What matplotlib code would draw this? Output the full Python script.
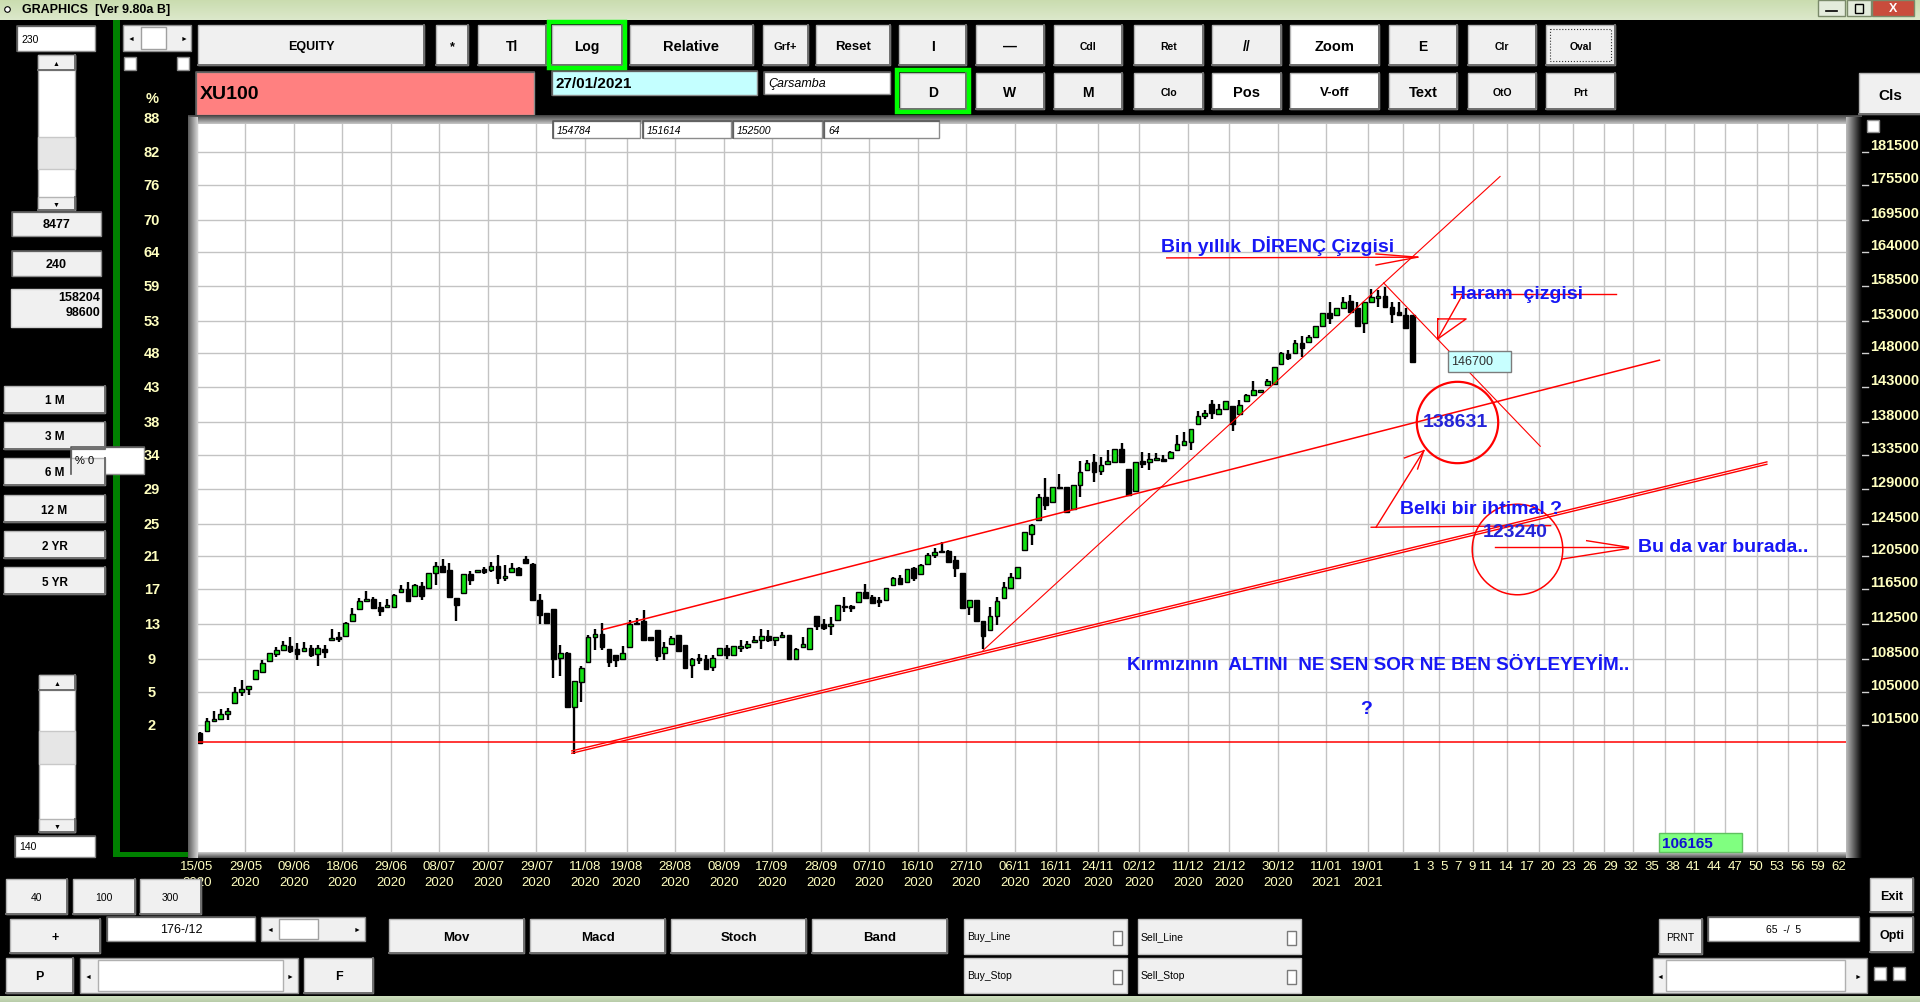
import numpy as np
import matplotlib
matplotlib.use('Agg')
import matplotlib.pyplot as plt
from matplotlib.patches import Rectangle
from matplotlib.colors import to_rgb
from matplotlib.transforms import blended_transform_factory as blend

NARROW = ['Liberation Sans Narrow', 'Liberation Sans', 'DejaVu Sans']
plt.rcParams['font.family'] = NARROW

# ---- data (XU100 daily, 15/05/2020 - 27/01/2021) ----
opens = [100730, 100900, 101930, 102140, 102660, 103810, 104980, 105300, 106330, 107130,
         108290, 109100, 109500, 110020, 109690, 109430, 109760, 109100, 109690, 110660,
         111040, 111110, 112810, 114190, 115170, 115360, 114420, 114420, 114460, 116180,
         116570, 115710, 116850, 116650, 118440, 119290, 118760, 115480, 116060, 118320,
         118560, 118960, 118760, 119290, 117840, 118550, 119040, 120170, 119560, 115210,
         113730, 114240, 108690, 109250, 103400, 106040, 108220, 110990, 111330, 109610,
         108950, 108580, 109880, 112620, 112770, 110960, 111790, 109180, 110210, 111180,
         110130, 107930, 108660, 108580, 107670, 108950, 109770, 108950, 109770, 109880,
         110430, 110700, 111070, 110700, 110990, 111180, 108580, 109880, 109690, 113440,
         112480, 112220, 112970, 114420, 114570, 115070, 116160, 115540, 115270, 115190,
         117030, 117820, 117420, 119090, 118330, 119530, 120620, 121110, 121110, 120020,
         118410, 114380, 115270, 112780, 111840, 113430, 115460, 116710, 117900, 121190,
         123170, 124960, 127940, 127300, 129240, 129240, 126450, 129460, 131440, 132560,
         131310, 132340, 132560, 134360, 131660, 128670, 132650, 132560, 132790, 133010,
         133100, 134240, 134820, 135280, 137820, 138850, 140640, 139230, 139930, 140260,
         139230, 140980, 141840, 142320, 143280, 143520, 146330, 147830, 147980, 149480,
         149730, 150500, 152190, 154100, 153840, 154990, 156090, 154880, 152600, 155930,
         156460, 156890, 155140, 154360, 153840, 153840]
highs = [100800, 102240, 102970, 103190, 103290, 105510, 106260, 105620, 107310, 108470,
         109210, 109910, 110590, 111040, 110360, 110480, 110130, 110130, 110130, 111940,
         111600, 112700, 114340, 115520, 116340, 115630, 115050, 115400, 115950, 117050,
         117410, 117170, 117410, 118440, 119810, 120180, 119690, 115480, 118320, 118720,
         118840, 119170, 119810, 120660, 119410, 119690, 119160, 120500, 119690, 115990,
         113730, 114240, 110130, 109320, 106110, 107780, 111260, 111940, 112620, 109610,
         109030, 109990, 112890, 113160, 114120, 111030, 111790, 110430, 111110, 111260,
         110130, 108660, 109060, 108950, 108950, 109770, 110130, 109990, 110620, 110510,
         111110, 111940, 111750, 110990, 111560, 111180, 109770, 110990, 112020, 113440,
         113090, 113230, 114690, 115580, 114690, 116160, 117150, 115850, 115650, 116710,
         118020, 118210, 118930, 119210, 119490, 120910, 121440, 122260, 121230, 120540,
         118410, 115270, 115270, 112850, 114380, 115650, 117310, 118410, 119210, 123420,
         124540, 128380, 130430, 129240, 131000, 129240, 129460, 132650, 132780, 133680,
         133240, 134130, 134270, 135180, 131660, 132560, 133910, 133780, 133780, 133460,
         134000, 136200, 136660, 137120, 139550, 139700, 141120, 140640, 140980, 140260,
         141120, 142080, 143920, 142560, 144260, 145930, 148230, 148480, 149980, 150600,
         150750, 152190, 154200, 155930, 154990, 156730, 157000, 155930, 155930, 157900,
         157800, 158220, 155930, 155930, 154880, 153840]
lows = [99550, 100900, 101930, 102140, 102000, 103810, 104520, 104620, 106330, 107060,
        108290, 108730, 109500, 109170, 108400, 109430, 108730, 107740, 108620, 110660,
        110400, 111110, 112810, 114190, 115010, 114310, 113350, 114420, 114390, 116180,
        115130, 115710, 115210, 116650, 116970, 118560, 115590, 112780, 116060, 116970,
        118560, 118280, 118560, 117090, 117450, 118470, 118160, 119520, 115210, 112510,
        112580, 106510, 106690, 103400, 98560, 103920, 108220, 109500, 109500, 107670,
        107670, 108470, 109880, 112320, 110700, 110630, 108330, 108470, 110210, 109390,
        107570, 106470, 108000, 107490, 107240, 108950, 108580, 108950, 109320, 109690,
        110430, 109690, 110430, 109990, 110990, 108580, 108470, 109880, 109690, 111800,
        111840, 111280, 112970, 113810, 113810, 115070, 115460, 114880, 114380, 115190,
        117030, 117030, 117420, 117500, 118330, 119530, 120300, 120830, 119730, 118020,
        114300, 113540, 112780, 109610, 111840, 112400, 115460, 116710, 117740, 121190,
        121850, 124960, 126230, 127300, 129030, 126020, 126450, 127940, 131440, 129900,
        130780, 132340, 132560, 132560, 128250, 128670, 131760, 131450, 132650, 132560,
        133100, 134240, 134820, 134140, 137820, 138520, 138520, 139230, 139930, 136750,
        139230, 140980, 141750, 142320, 143280, 143520, 146330, 146980, 147980, 147480,
        149730, 150500, 152190, 152450, 153840, 154990, 154360, 152190, 151030, 155930,
        155140, 155140, 152600, 153840, 151780, 146730]
closes = [99650, 101930, 102140, 102660, 102970, 104980, 105260, 105580, 107310, 108110,
          109210, 109540, 110060, 109390, 109140, 109760, 108950, 109760, 109320, 110920,
          110740, 112620, 113610, 115170, 115400, 114310, 113960, 114660, 115870, 116570,
          115130, 116970, 115670, 118440, 119290, 118560, 115590, 114700, 118320, 117560,
          118840, 118560, 119290, 117840, 118080, 119040, 118160, 119600, 115210, 113460,
          112580, 108580, 109210, 103400, 106110, 107600, 110990, 111330, 109880, 108220,
          108400, 109210, 112510, 112470, 110700, 110700, 108840, 109880, 110920, 109390,
          107570, 108580, 108400, 107490, 108660, 109770, 108950, 109990, 109990, 110210,
          110700, 111070, 110620, 110990, 111260, 108580, 109690, 110210, 112020, 112300,
          112030, 112480, 114690, 114570, 114310, 116160, 115460, 114880, 114960, 116630,
          117900, 117150, 118930, 117900, 119410, 120620, 121030, 120950, 119730, 119010,
          114300, 115270, 112780, 111090, 113430, 115150, 116830, 118020, 119210, 123420,
          124410, 127940, 126960, 129240, 129110, 126020, 129460, 131220, 132470, 131220,
          132110, 132650, 134270, 132560, 128250, 132560, 132340, 133010, 133100, 132650,
          133910, 134970, 135370, 137120, 138850, 139320, 139320, 139930, 140980, 137820,
          140410, 141840, 142560, 142560, 143870, 145930, 147980, 147230, 149480, 148730,
          150500, 152190, 154100, 153430, 154880, 155930, 154360, 152190, 155930, 156730,
          156890, 155140, 153940, 153840, 151780, 146730]

date_bars = [0, 7, 14, 21, 28, 35, 42, 49, 56, 62, 69, 76, 83, 90, 97, 104, 111, 118,
             124, 130, 136, 143, 149, 156, 163, 169]
date_labels = ['15/05', '29/05', '09/06', '18/06', '29/06', '08/07', '20/07', '29/07',
               '11/08', '19/08', '28/08', '08/09', '17/09', '28/09', '07/10', '16/10',
               '27/10', '06/11', '16/11', '24/11', '02/12', '11/12', '21/12', '30/12',
               '11/01', '19/01']
date_years = ['2020'] * 24 + ['2021', '2021']
future_labels = [1, 3, 5, 7, 9, 11, 14, 17, 20, 23, 26, 29, 32, 35, 38, 41, 44, 47,
                 50, 53, 56, 59, 62]
future_grid = [173.6, 178.8, 183.7, 188.6, 193.2, 198.1, 202.6, 206.8, 211.4, 215.6,
               220.1, 224.7, 229.1, 233.3]
grid_prices = [187900, 181500, 175500, 169500, 164000, 158500, 153000, 148000, 143000,
               138000, 133500, 129000, 124500, 120500, 116500, 112500, 108500, 105000, 101500]
pct_labels = ['88', '82', '76', '70', '64', '59', '53', '48', '43', '38', '34', '29',
              '25', '21', '17', '13', '9', '5', '2']
base_price = 99760
last_price = 146700

# ---- figure + layers ----
fig = plt.figure(figsize=(19.2, 10.03), dpi=100, facecolor='black')
ui = fig.add_axes([0, 0, 1, 1], zorder=0)
ui.set_xlim(0, 1920)
ui.set_ylim(1003, 0)
ui.axis('off')

ax = fig.add_axes([198 / 1920, 1 - 853 / 1003, 1648 / 1920, 728 / 1003], zorder=1)
ax.set_facecolor('white')
ax.set_yscale('log')
ax.set_xlim(-0.29, 237.52)
ax.set_ylim(89260, 186740)
ax.set_xticks([])
ax.set_yticks([])
ax.minorticks_off()
for s in ax.spines.values():
    s.set_visible(False)

ov = fig.add_axes([0, 0, 1, 1], zorder=2)
ov.set_xlim(0, 1920)
ov.set_ylim(1003, 0)
ov.axis('off')


def grad(a, x0, x1, y0, y1, c0, c1, horiz=True, z=2):
    t = np.linspace(0, 1, 64)[:, None]
    cols = np.array(to_rgb(c0)) * (1 - t) + np.array(to_rgb(c1)) * t
    img = cols[None, :, :] if horiz else cols[:, None, :]
    a.imshow(img, extent=(x0, x1, y1, y0), aspect='auto', interpolation='bilinear', zorder=z)


def box(a, x0, y0, x1, y1, fc, ec='#a0a0a0', lw=1.0, z=3, ls='-'):
    a.add_patch(Rectangle((x0, y0), x1 - x0, y1 - y0, fc=fc, ec=ec, lw=lw, ls=ls, zorder=z))


def button(x0, y0, x1, y1, text, fs=9, fc='#f0f0f0', weight='bold', ring=None, a=None):
    a = a or ui
    box(a, x0, y0, x1, y1, fc, ec='#b4b4b4')
    a.plot([x0, x1, x1], [y1, y1, y0], color='#6e6e6e', lw=1.4, zorder=4)
    if ring:
        box(a, x0 - 3, y0 - 3, x1 + 3, y1 + 3, 'none', ec=ring, lw=3.2, z=5)
    a.text((x0 + x1) / 2, (y0 + y1) / 2 + 1, text, ha='center', va='center',
           fontsize=fs, fontweight=weight, color='black', zorder=6)


def field(x0, y0, x1, y1, text, fc='white', fs=8, ha='left', style='normal',
          weight='normal', a=None, tc='black'):
    a = a or ui
    box(a, x0, y0, x1, y1, fc, ec='#8c8c8c')
    a.plot([x0, x0, x1], [y1, y0, y0], color='#5a5a5a', lw=1.2, zorder=4)
    tx = x0 + 4 if ha == 'left' else (x0 + x1) / 2
    a.text(tx, (y0 + y1) / 2, text, ha=ha, va='center', fontsize=fs, color=tc,
           fontstyle=style, fontweight=weight, zorder=6)


# ---- window chrome ----
grad(ui, 0, 1920, 0, 21, '#c9dcae', '#dce8cb', horiz=False)
ui.text(22, 10, 'GRAPHICS  [Ver 9.80a B]', fontsize=9, fontweight='bold',
        va='center', family=['Liberation Sans', 'DejaVu Sans'], zorder=6)
ui.plot(7, 10, 'o', ms=4, mfc='white', mec='black', mew=0.8, zorder=6)
for x0, x1, fc in [(1818, 1845, '#e4ecdc'), (1847, 1871, '#e4ecdc'), (1872, 1914, '#c94c3c')]:
    box(ui, x0, 1, x1, 17, fc, ec='#7a8a6a')
ui.text(1893, 9, 'X', color='white', fontsize=9, fontweight='bold', ha='center', va='center', zorder=6)
ui.plot([1826, 1837], [12, 12], color='black', lw=1.2, zorder=6)
box(ui, 1855, 5, 1863, 14, 'none', ec='black', lw=1, z=6)
grad(ui, 0, 1920, 997, 1003, '#cfe0c0', '#b8cca8', horiz=False)

# left green frame
box(ui, 113, 21, 120, 858, '#008000', ec='none')
box(ui, 113, 853, 190, 858, '#008000', ec='none')

# ---- top toolbar ----
row1 = [('EQUITY', 198, 424, 9, '#f0f0f0'), ('*', 436, 468, 9, '#f0f0f0'),
        ('Tl', 478, 546, 10, '#f0f0f0'), ('Log', 552, 622, 10, '#f0f0f0'),
        ('Relative', 630, 753, 10.5, '#f0f0f0'), ('Grf+', 763, 808, 8, '#f0f0f0'),
        ('Reset', 816, 890, 9.5, '#f0f0f0'), ('I', 899, 966, 10, '#f0f0f0'),
        ('—', 976, 1044, 10, '#f0f0f0'), ('Cdl', 1054, 1122, 7.5, '#f0f0f0'),
        ('Ret', 1134, 1203, 7.5, '#f0f0f0'), ('//', 1212, 1281, 10, '#f0f0f0'),
        ('Zoom', 1290, 1379, 10.5, 'white'), ('E', 1389, 1457, 10, '#f0f0f0'),
        ('Clr', 1468, 1536, 7.5, '#f0f0f0'), ('Oval', 1546, 1615, 7.5, '#f0f0f0')]
for txt, x0, x1, fs, fc in row1:
    button(x0, 26, x1, 66, txt, fs=fs, fc=fc, ring='#00ff00' if txt == 'Log' else None)
box(ui, 1550, 30, 1611, 62, 'none', ec='#303030', lw=0.8, z=5, ls=':')

row2 = [('D', 900, 966, 10, '#f0f0f0'), ('W', 976, 1044, 10, '#f0f0f0'),
        ('M', 1054, 1122, 10, '#f0f0f0'), ('Clo', 1134, 1203, 7.5, '#f0f0f0'),
        ('Pos', 1212, 1281, 10.5, 'white'), ('V-off', 1290, 1379, 9.5, 'white'),
        ('Text', 1389, 1457, 10.5, '#f0f0f0'), ('OtO', 1468, 1536, 7.5, '#f0f0f0'),
        ('Prt', 1546, 1615, 7.5, '#f0f0f0')]
for txt, x0, x1, fs, fc in row2:
    button(x0, 74, x1, 110, txt, fs=fs, fc=fc, ring='#00ff00' if txt == 'D' else None)
button(1859, 74, 1922, 115, 'Cls', fs=11)

field(196, 73, 534, 116, 'XU100', fc='#ff8080', fs=14, weight='bold')
field(552, 72, 757, 96, '27/01/2021', fc='#c4ffff', fs=11, weight='bold')
field(764, 73, 890, 95, 'Çarsamba', fs=9, style='italic')

# top-left controls
field(17, 27, 95, 52, '230', fs=7.5)
box(ui, 123, 26, 191, 52, '#f0f0f0', ec='#8c8c8c')
box(ui, 141, 28, 166, 50, 'white', ec='#a0a0a0')
ui.text(131, 39, '◄', fontsize=5, ha='center', va='center', zorder=6)
ui.text(184, 39, '►', fontsize=5, ha='center', va='center', zorder=6)
box(ui, 124, 58, 136, 71, 'white', ec='#8c8c8c')
box(ui, 177, 58, 189, 71, 'white', ec='#8c8c8c')


def vscroll(x0, y0, x1, y1, t0, t1):
    box(ui, x0, y0, x1, y1, 'white', ec='#a0a0a0')
    box(ui, x0, t0, x1, t1, '#e6e6e6', ec='#c8c8c8')
    button(x0, y0, x1, y0 + 15, '▲', fs=5, weight='normal')
    button(x0, y1 - 13, x1, y1, '▼', fs=5, weight='normal')


vscroll(38, 56, 75, 211, 138, 170)
vscroll(39, 676, 75, 833, 732, 765)
field(15, 837, 95, 858, '140', fs=7.5)

field(12, 213, 101, 237, '8477', fc='#f0f0f0', fs=9, ha='center', weight='bold')
field(12, 252, 101, 277, '240', fc='#f0f0f0', fs=9, ha='center', weight='bold')
box(ui, 11, 290, 101, 328, '#f0f0f0', ec='#d0d0d0')
ui.text(100, 298, '158204', ha='right', va='center', fontsize=9, fontweight='bold', zorder=6)
ui.text(100, 313, '98600', ha='right', va='center', fontsize=9, fontweight='bold', zorder=6)

field(71, 448, 144, 475, '% 0', fs=8)
for j, txt in enumerate(['1 M', '3 M', '6 M', '12 M', '2 YR', '5 YR']):
    y0 = [387, 423, 459, 496, 532, 568][j]
    button(4, y0, 105, y0 + 27, txt, fs=8.5)

# ---- bottom controls ----
for txt, x0, x1 in [('40', 6, 67), ('100', 73, 135), ('300', 140, 201)]:
    button(x0, 880, x1, 915, txt, fs=7.5, weight='normal')
button(10, 920, 100, 954, '+', fs=9)
field(107, 918, 255, 942, '176-/12', fs=9, ha='center')
box(ui, 261, 918, 365, 942, '#f0f0f0', ec='#8c8c8c')
box(ui, 279, 920, 318, 940, 'white', ec='#a0a0a0')
ui.text(270, 930, '◄', fontsize=5, ha='center', va='center', zorder=6)
ui.text(357, 930, '►', fontsize=5, ha='center', va='center', zorder=6)
for txt, x0, x1 in [('Mov', 389, 524), ('Macd', 530, 665), ('Stoch', 671, 806), ('Band', 812, 947)]:
    button(x0, 920, x1, 954, txt, fs=9.5)
for txt, x0, y0 in [('Buy_Line', 964, 920), ('Sell_Line', 1138, 920),
                    ('Buy_Stop', 964, 959), ('Sell_Stop', 1138, 959)]:
    box(ui, x0, y0, x0 + 163, y0 + 35, '#f0f0f0', ec='#c0c0c0')
    ui.text(x0 + 3, y0 + 17, txt, fontsize=7.5, va='center', zorder=6)
    box(ui, x0 + 149, y0 + 12, x0 + 158, y0 + 26, 'white', ec='#7a7a7a')
button(6, 959, 73, 994, 'P', fs=9)
box(ui, 80, 959, 298, 994, '#f0f0f0', ec='#8c8c8c')
box(ui, 98, 961, 283, 992, 'white', ec='#b0b0b0')
ui.text(88, 977, '◄', fontsize=5, ha='center', va='center', zorder=6)
ui.text(290, 977, '►', fontsize=5, ha='center', va='center', zorder=6)
button(304, 959, 373, 994, 'F', fs=9)
button(1659, 920, 1702, 955, 'PRNT', fs=7.5, weight='normal')
field(1708, 918, 1859, 942, '65  -/  5', fs=7.5, ha='center')
button(1870, 879, 1913, 913, 'Exit', fs=9)
button(1870, 918, 1913, 953, 'Opti', fs=9)
box(ui, 1653, 959, 1867, 994, '#f0f0f0', ec='#8c8c8c')
box(ui, 1666, 961, 1845, 992, 'white', ec='#b0b0b0')
ui.text(1660, 977, '◄', fontsize=5, ha='center', va='center', zorder=6)
ui.text(1858, 977, '►', fontsize=5, ha='center', va='center', zorder=6)
box(ui, 1874, 968, 1886, 981, 'white', ec='#8c8c8c')
box(ui, 1893, 968, 1905, 981, 'white', ec='#8c8c8c')

# ---- chart frame ----
grad(ov, 188, 198, 118, 859, '#5a5a5a', '#d8d8d8')
grad(ov, 1846, 1862, 118, 859, '#bdbdbd', '#000000')
grad(ov, 188, 1862, 116, 125, '#404040', '#c8c8c8', horiz=False, z=1)
grad(ov, 188, 1862, 853, 859, '#d0d0d0', '#4a4a4a', horiz=False, z=1)
box(ov, 1867, 121, 1879, 133, 'white', ec='#909090')

# ---- grid ----
GRID = '#c3c3c3'
for p in grid_prices[1:]:
    ax.axhline(p, color=GRID, lw=1.0, zorder=0)
for b in date_bars:
    ax.axvline(b - 0.45, color=GRID, lw=1.0, zorder=0)
for g in future_grid:
    ax.axvline(g, color=GRID, lw=1.0, zorder=0)

# price scale (right) and percent scale (left)
yr = blend(ui.transData, ax.transData)
for p in grid_prices[1:]:
    ui.plot([1860, 1868], [p, p], color='#d0d0d0', lw=1.0, transform=yr, zorder=3)
    ui.text(1870, p, f'{p}', transform=yr, ha='left', va='bottom', fontsize=10.5,
            fontweight='bold', color='#ffffc0', zorder=3)
for p, lab in zip(grid_prices, pct_labels):
    ui.text(152, p, lab, transform=yr, ha='center', va='center', fontsize=10.5,
            fontweight='bold', color='#ffffc0', zorder=3)
ui.text(152, 99, '%', ha='center', va='center', fontsize=10.5, fontweight='bold',
        color='#ffffc0', zorder=3)

# date labels
xb = blend(ax.transData, ui.transData)
for b, d, yl in zip(date_bars, date_labels, date_years):
    ui.text(b - 0.45, 867, d, transform=xb, ha='center', va='center', fontsize=9.5,
            color='#ffffc0', zorder=1)
    ui.text(b - 0.45, 883, yl, transform=xb, ha='center', va='center', fontsize=9.5,
            color='#ffffc0', zorder=1)
last_bar = len(closes) - 1
for k in future_labels:
    ui.text(last_bar - 0.5 + k, 867, str(k), transform=xb, ha='center', va='center',
            fontsize=9.5, color='#ffffc0', zorder=1)

# ---- candles ----
x = np.arange(len(closes))
o = np.array(opens, float)
c = np.array(closes, float)
up = c >= o
ax.vlines(x, lows, highs, color='black', lw=1.7, zorder=3)
bottoms = np.minimum(o, c)
heights = np.abs(c - o)
ax.bar(x, heights, 0.68, bottom=bottoms, color=np.where(up, '#12e012', 'black'),
       edgecolor='black', linewidth=1.0, zorder=4)

# ---- drawn lines / notes ----
RED = '#ff0000'
BLUE = '#1717f5'
ax.axhline(base_price, color=RED, lw=1.1, zorder=5)
ax.plot([53.65, 226.1], [98660, 132250], color=RED, lw=1.0, zorder=5)
ax.plot([53.65, 226.1], [98660 * 1.0024, 132250 * 1.0024], color=RED, lw=1.0, zorder=5)
ax.plot([58.1, 210.6], [111840, 146970], color=RED, lw=1.1, zorder=5)
ax.plot([113.0, 187.6], [109510, 177060], color=RED, lw=0.8, zorder=5)
ax.plot([170.8, 193.4], [158950, 134690], color=RED, lw=0.8, zorder=5)

segs = [
    ([139.5, 175.7], [163030, 163150]), ([169.7, 175.7], [163690, 163150]),
    ([169.7, 175.7], [161860, 163150]),
    ([180.5, 204.3], [157120, 157120]), ([182.1, 178.6], [156860, 150170]),
    ([178.6, 182.7, 178.6, 178.6], [153250, 153250, 150170, 153250]),
    ([169.0, 194.9], [124070, 124270]), ([169.7, 176.6], [124070, 134090]),
    ([173.8, 176.6], [133100, 134090]), ([175.7, 176.6], [131620, 134090]),
    ([186.9, 206.1], [121580, 121580]), ([200.1, 206.1], [122390, 121580]),
    ([196.6, 206.1], [120140, 121420]),
]
for sx, sy in segs:
    ax.plot(sx, sy, color=RED, lw=1.0, zorder=5)

ax.plot(181.4, 138010, 'o', ms=58.6, mfc='none', mec=RED, mew=1.6, zorder=6)
ax.plot(190.1, 121310, 'o', ms=65.2, mfc='none', mec=RED, mew=1.1, zorder=6)

ax.add_patch(Rectangle((180.1, 145230), 9.1, 3120, fc='#c8ffff', ec='#7c7c7c', lw=1.0, zorder=7))
ax.text(180.5, 146780, f'{last_price}', fontsize=9, color='#303030', va='center', zorder=8)

notes = [
    (138.7, 165190, 'Bin yıllık  DİRENÇ Çizgisi', 'left', BLUE, 14),
    (180.7, 157260, 'Haram  çizgisi', 'left', BLUE, 14),
    (181.2, 138050, '138631', 'center', '#2424d8', 14),
    (173.2, 126390, 'Belki bir ihtimal ?', 'left', BLUE, 14),
    (189.8, 123540, '123240', 'center', '#2424d8', 14),
    (207.5, 121680, 'Bu da var burada..', 'left', BLUE, 14),
    (133.7, 107900, 'Kırmızının  ALTINI  NE SEN SOR NE BEN SÖYLEYEYİM..', 'left', BLUE, 13.6),
    (168.3, 103190, '?', 'center', BLUE, 14),
]
for nx, ny, txt, ha, col, fs in notes:
    ax.text(nx, ny, txt, ha=ha, va='center', fontsize=fs, fontweight='bold',
            color=col, zorder=8)

# ---- overlay boxes on the chart edge ----
for txt, x0, x1 in [('154784', 553, 640), ('151614', 643, 731), ('152500', 733, 822), ('64', 824, 939)]:
    field(x0, 122, x1, 139, txt, fs=7.5, style='italic', a=ov)
box(ov, 1659, 834, 1742, 853, '#80ff80', ec='#60c060')
ov.text(1662, 844, '106165', fontsize=11, fontweight='bold', color='#1010d0', va='center', zorder=6)

fig.savefig('out.png', dpi=100, facecolor='black')
